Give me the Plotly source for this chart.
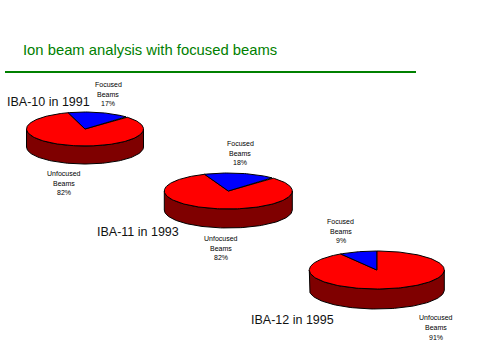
import numpy as np
import plotly.graph_objects as go

# Data
pie_names = ["IBA-10 in 1991", "IBA-11 in 1993", "IBA-12 in 1995"]
focused_pct = [17, 18, 9]
unfocused_pct = [82, 82, 91]
focused_lines = ["Focused", "Beams"]
unfocused_lines = ["Unfocused", "Beams"]
title_text = "Ion beam analysis with focused beams"

# Layout of each pie in the 480x360 page
centres_x = [85, 228.3, 376.8]
centres_y = [129, 191, 270]
radii_x = [58.5, 64, 67.5]
radii_y = [17, 18, 19]
depths = [18, 19, 20]
focused_end_deg = [44.5, 43, 0]     # clockwise from 12 o'clock
name_pos = [(5, 102), (95, 232), (249, 320)]
focused_pos = [(108, 94), (240, 153), (340.5, 231)]
unfocused_pos = [(64, 183), (220.7, 248), (435.5, 327.5)]
LINE_GAP = 9.7

RED, DARK, BLUE, GREEN = "#ff0000", "#7f0000", "#0000ff", "#008000"


def arc(cx, cy, rx, ry, a0, a1, n=90):
    t = np.radians(np.linspace(a0, a1, n))
    return cx + rx * np.sin(t), cy - ry * np.cos(t)


fig = go.Figure()


def poly(x, y, colour):
    fig.add_trace(go.Scatter(x=list(x), y=list(y), mode="lines", fill="toself",
                             fillcolor=colour, hoverinfo="skip", showlegend=False,
                             line=dict(color="black", width=1)))


for i in range(3):
    cx, cy, rx, ry, d = centres_x[i], centres_y[i], radii_x[i], radii_y[i], depths[i]
    # side wall
    x1, y1 = arc(cx, cy, rx, ry, 90, 270)
    x2, y2 = arc(cx, cy + d, rx, ry, 270, 90)
    poly(np.r_[x1, x2, x1[0]], np.r_[y1, y2, y1[0]], DARK)
    # slices
    sweep = focused_pct[i] * 3.6
    end = focused_end_deg[i]
    start = end - sweep
    x, y = arc(cx, cy, rx, ry, end, start + 360, 180)
    poly(np.r_[cx, x, cx], np.r_[cy, y, cy], RED)
    x, y = arc(cx, cy, rx, ry, start, end, 40)
    poly(np.r_[cx, x, cx], np.r_[cy, y, cy], BLUE)

ann = []


def block(pos, lines):
    for k, line in enumerate(lines):
        ann.append(dict(x=pos[0], y=pos[1] + (k - 1) * LINE_GAP, text=line, yanchor="middle",
                        font=dict(size=7, color="black")))


for i in range(3):
    ann.append(dict(x=name_pos[i][0], y=name_pos[i][1], text=pie_names[i], xanchor="left",
                    yanchor="middle", font=dict(size=12.5, color="#111111")))
    block(focused_pos[i], focused_lines + [f"{focused_pct[i]}%"])
    block(unfocused_pos[i], unfocused_lines + [f"{unfocused_pct[i]}%"])
ann.append(dict(x=20.5, y=49.5, text=title_text, xanchor="left", yanchor="middle",
                font=dict(size=14.8, color=GREEN)))
for a in ann:
    a.update(xref="x", yref="y", showarrow=False)

fig.update_layout(
    width=480, height=360, margin=dict(l=0, r=0, t=0, b=0),
    paper_bgcolor="white", plot_bgcolor="white", showlegend=False,
    font=dict(family="Liberation Sans, Arial, sans-serif"),
    xaxis=dict(range=[0, 480], visible=False, fixedrange=True),
    yaxis=dict(range=[360, 0], visible=False, fixedrange=True),
    annotations=ann,
    shapes=[dict(type="line", xref="x", yref="y", x0=5, x1=416, y0=72, y1=72,
                 line=dict(color=GREEN, width=2))],
)
fig.write_html("out.html", config={"displayModeBar": False},
               post_script="document.body.style.margin='0';")
